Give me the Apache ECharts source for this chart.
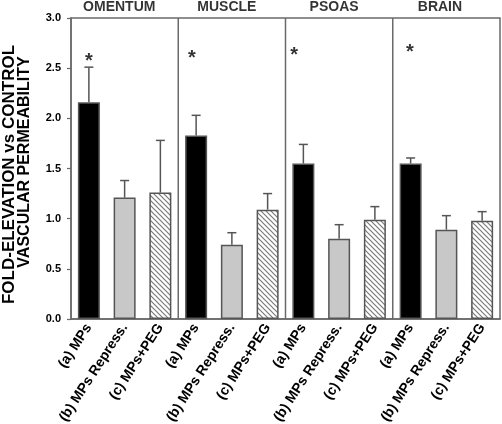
<!DOCTYPE html>
<html>
<head>
<meta charset="utf-8">
<script src="https://cdn.jsdelivr.net/npm/echarts@6/dist/echarts.min.js"></script>
<style>html,body{margin:0;padding:0;background:#fff}#c{width:502px;height:424px}</style>
</head>
<body>
<div id="c"></div>
<script>
// ---- data ----
const groups = ['OMENTUM', 'MUSCLE', 'PSOAS', 'BRAIN'];
const treatments = ['(a) MPs', '(b) MPs Repress.', '(c) MPs+PEG'];
const mpsMean = [2.16, 1.83, 1.55, 1.55];
const mpsSE = [0.35, 0.20, 0.19, 0.055];
const repressMean = [1.21, 0.74, 0.80, 0.89];
const repressSE = [0.17, 0.12, 0.14, 0.14];
const pegMean = [1.26, 1.09, 0.99, 0.98];
const pegSE = [0.52, 0.16, 0.13, 0.09];
const yTicks = ['0.0', '0.5', '1.0', '1.5', '2.0', '2.5', '3.0'];
const starX = [0.0, 2.88, 5.74, 8.98];
const starY = [2.615, 2.65, 2.68, 2.71];
const groupTitleX = [0.85, 3.86, 6.86, 9.82];
const separatorsX = [2.5, 5.5, 8.5];
const yTitle1 = 'FOLD-ELEVATION vs CONTROL';
const yTitle2 = 'VASCULAR PERMEABILITY';

// ---- build ----
const FONT = '"Liberation Sans", Arial, sans-serif';
const hatch = document.createElement('canvas');
hatch.width = 5; hatch.height = 5;
(function () {
  const g = hatch.getContext('2d');
  g.fillStyle = '#fff'; g.fillRect(0, 0, 5, 5);
  g.strokeStyle = '#7a7a7a'; g.lineWidth = 1.2;
  g.beginPath();
  g.moveTo(-1, -1); g.lineTo(6, 6);
  g.moveTo(-1, 4); g.lineTo(1, 6);
  g.moveTo(4, -1); g.lineTo(6, 1);
  g.stroke();
})();

const fills = ['#000000', '#c8c8c8', { image: hatch, repeat: 'repeat' }];
const means = [mpsMean, repressMean, pegMean];
const ses = [mpsSE, repressSE, pegSE];

const categories = [];
const barData = [];
const errData = [];
groups.forEach((g, gi) => {
  treatments.forEach((t, ti) => {
    const idx = categories.length;
    categories.push(t);
    const m = means[ti][gi];
    barData.push({ value: m, itemStyle: { color: fills[ti] } });
    errData.push([idx, m + ses[ti][gi], m]);
  });
});

const chart = echarts.init(document.getElementById('c'), null, { renderer: 'canvas' });
chart.setOption({
  animation: false,
  backgroundColor: '#fff',
  grid: { left: 71, right: 2, top: 18, bottom: 105, containLabel: false, outerBoundsMode: 'none',
    show: true, borderColor: '#6a6a6a', borderWidth: 1.5, backgroundColor: 'transparent' },
  xAxis: [{
    type: 'category',
    data: categories,
    boundaryGap: true,
    axisLine: { onZero: false, lineStyle: { color: '#6a6a6a', width: 1.5 } },
    axisTick: { alignWithLabel: true, length: 4, lineStyle: { color: '#6a6a6a', width: 1.2 } },
    axisLabel: { rotate: 57, margin: 6, interval: 0, hideOverlap: false, fontFamily: FONT, fontWeight: 'bold', fontSize: 14, color: '#000' }
  }, {
    type: 'value', min: -0.5, max: 11.5, show: false
  }],
  yAxis: {
    type: 'value', min: 0, max: 3, interval: 0.5,
    splitLine: { show: false },
    axisLine: { show: true, onZero: false, lineStyle: { color: '#6a6a6a', width: 1.5 } },
    axisTick: { show: true, length: 4, lineStyle: { color: '#6a6a6a', width: 1.2 } },
    axisLabel: { margin: 10, fontFamily: FONT, fontWeight: 'bold', fontSize: 11, color: '#000',
      formatter: (v) => yTicks[Math.round(v / 0.5)] }
  },
  graphic: [
    { type: 'text', x: 9.5, y: 174.5, rotation: Math.PI / 2,
      style: { text: yTitle1, font: 'bold 17px ' + FONT, fill: '#000', align: 'center', verticalAlign: 'middle', textAlign: 'center', textVerticalAlign: 'middle' } },
    { type: 'text', x: 25, y: 162, rotation: Math.PI / 2,
      style: { text: yTitle2, font: 'bold 16px ' + FONT, fill: '#000', align: 'center', verticalAlign: 'middle', textAlign: 'center', textVerticalAlign: 'middle' } }
  ],
  series: [
    {
      type: 'bar', data: barData, barWidth: 22, z: 2,
      itemStyle: { borderColor: '#555', borderWidth: 1.5 }
    },
    {
      type: 'custom', z: 3,
      dimensions: ['x', 'top', 'base'],
      encode: { x: 0, y: [1, 2] },
      data: errData,
      renderItem: function (params, api) {
        const x = api.value(0), top = api.value(1), base = api.value(2);
        const p1 = api.coord([x, base]), p2 = api.coord([x, top]);
        const st = { stroke: '#555', lineWidth: 1.5 };
        return { type: 'group', children: [
          { type: 'line', shape: { x1: p1[0], y1: p1[1], x2: p2[0], y2: p2[1] }, style: st },
          { type: 'line', shape: { x1: p2[0] - 4.5, y1: p2[1], x2: p2[0] + 4.5, y2: p2[1] }, style: st }
        ] };
      }
    },
    {
      type: 'custom', xAxisIndex: 1, z: 1,
      data: separatorsX.map(x => [x]),
      renderItem: function (params, api) {
        const a = api.coord([api.value(0), 0]), b = api.coord([api.value(0), 3]);
        return { type: 'line', shape: { x1: a[0], y1: a[1], x2: b[0], y2: b[1] }, style: { stroke: '#6a6a6a', lineWidth: 1.5 } };
      }
    },
    {
      type: 'scatter', xAxisIndex: 1, symbolSize: 1, clip: false, z: 4,
      itemStyle: { color: 'transparent' },
      data: starX.map((x, i) => [x, starY[i]]),
      label: { show: true, position: 'inside', formatter: '*', fontFamily: FONT, fontWeight: 'bold', fontSize: 20, color: '#000', offset: [0, 5] }
    },
    {
      type: 'scatter', xAxisIndex: 1, symbolSize: 1, clip: false, z: 4,
      itemStyle: { color: 'transparent' },
      data: groupTitleX.map(x => [x, 3]),
      label: { show: true, position: 'top', distance: 3, formatter: (p) => groups[p.dataIndex],
        fontFamily: FONT, fontWeight: 'bold', fontSize: 14, color: '#000' }
    }
  ]
});
</script>
</body>
</html>
